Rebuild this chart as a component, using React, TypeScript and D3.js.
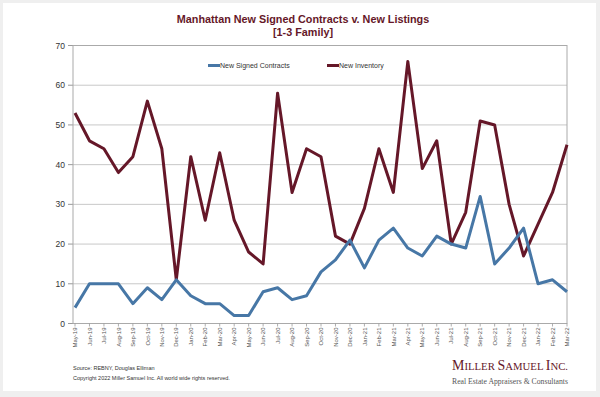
import React from "react";
import * as d3 from "d3";

const months = [
  "May-19","Jun-19","Jul-19","Aug-19","Sep-19","Oct-19","Nov-19","Dec-19",
  "Jan-20","Feb-20","Mar-20","Apr-20","May-20","Jun-20","Jul-20","Aug-20","Sep-20","Oct-20","Nov-20","Dec-20",
  "Jan-21","Feb-21","Mar-21","Apr-21","May-21","Jun-21","Jul-21","Aug-21","Sep-21","Oct-21","Nov-21","Dec-21",
  "Jan-22","Feb-22","Mar-22",
];
const signedContracts = [
  4,10,10,10,5,9,6,11,
  7,5,5,2,2,8,9,6,7,13,16,21,
  14,21,24,19,17,22,20,19,32,15,19,24,
  10,11,8,
];
const newInventory = [
  53,46,44,38,42,56,44,11,
  42,26,43,26,18,15,58,33,44,42,22,20,
  29,44,33,66,39,46,20,28,51,50,30,17,
  25,33,45,
];
const yTicks = [0,10,20,30,40,50,60,70];

const W = 600, H = 397;
const L = 75, R = 567, T = 45.5, B = 323.5;
const BLUE = "#4777a6";
const MAROON = "#651728";

export default function App() {
  const x = d3.scalePoint<string>().domain(months).range([L, R]);
  const y = d3.scaleLinear().domain([0, 70]).range([B, T]);
  const line = d3.line<number>().x((_, i) => x(months[i]) as number).y((d) => y(d));
  const font = "Liberation Sans, Arial, sans-serif";
  return (
    <svg width={W} height={H} style={{ position: "absolute", left: 0, top: 0 }} fontFamily={font}>
      <rect x={0} y={0} width={W} height={H} fill="#efefef" />
      <rect x={3} y={3} width={593} height={388} fill="#ffffff" />
      <text x={303} y={23} textAnchor="middle" fontSize={10.8} fontWeight="bold" fill={MAROON}>
        Manhattan New Signed Contracts v. New Listings
      </text>
      <text x={303} y={36} textAnchor="middle" fontSize={10.8} fontWeight="bold" fill={MAROON}>
        [1-3 Family]
      </text>
      {yTicks.map((t) => (
        <g key={t}>
          {t > 0 && t < 70 && (
            <line x1={L - 2} x2={R} y1={y(t)} y2={y(t)} stroke="#c8c8c8" strokeWidth={1} />
          )}
          <line x1={L - 7} x2={L - 2} y1={y(t)} y2={y(t)} stroke="#999" strokeWidth={1} />
          <text x={L - 10} y={y(t) + 3} textAnchor="end" fontSize={8.5} fill="#333">{t}</text>
        </g>
      ))}
      <rect x={L - 2} y={T} width={R - L + 2} height={B - T} fill="none" stroke="#aaa" strokeWidth={1} />
      {months.map((m) => (
        <g key={m}>
          <line x1={x(m)} x2={x(m)} y1={B} y2={B + 3} stroke="#999" strokeWidth={0.8} />
          <text
            transform={`translate(${(x(m) as number) + 2.2},${B + 4}) rotate(-90)`}
            textAnchor="end"
            fontSize={6}
            fill="#555"
          >
            {m}
          </text>
        </g>
      ))}
      <path d={line(newInventory) || ""} fill="none" stroke={MAROON} strokeWidth={3} strokeLinejoin="round" />
      <path d={line(signedContracts) || ""} fill="none" stroke={BLUE} strokeWidth={3} strokeLinejoin="round" />
      <line x1={208} x2={220} y1={65.5} y2={65.5} stroke={BLUE} strokeWidth={3} />
      <text x={220} y={68} fontSize={7} fill="#333">New Signed Contracts</text>
      <line x1={327} x2={339} y1={65.5} y2={65.5} stroke={MAROON} strokeWidth={3} />
      <text x={339} y={68} fontSize={7} fill="#333">New Inventory</text>
      <text x={73} y={370} fontSize={5.5} fill="#333">Source: REBNY, Douglas Elliman</text>
      <text x={73} y={380} fontSize={5.5} fill="#333">Copyright 2022 Miller Samuel Inc.  All world wide rights reserved.</text>
      <text x={452} y={370} fontSize={14} fill={MAROON} fontFamily="Liberation Serif, Times New Roman, serif" textLength={116} lengthAdjust="spacingAndGlyphs">
        <tspan>M</tspan><tspan fontSize={10.8}>ILLER </tspan><tspan>S</tspan><tspan fontSize={10.8}>AMUEL </tspan><tspan>I</tspan><tspan fontSize={10.8}>NC.</tspan>
      </text>
      <text x={452} y={384} fontSize={7.8} fill="#555" fontFamily="Liberation Serif, Times New Roman, serif" textLength={116} lengthAdjust="spacingAndGlyphs">
        Real Estate Appraisers &amp; Consultants
      </text>
    </svg>
  );
}
